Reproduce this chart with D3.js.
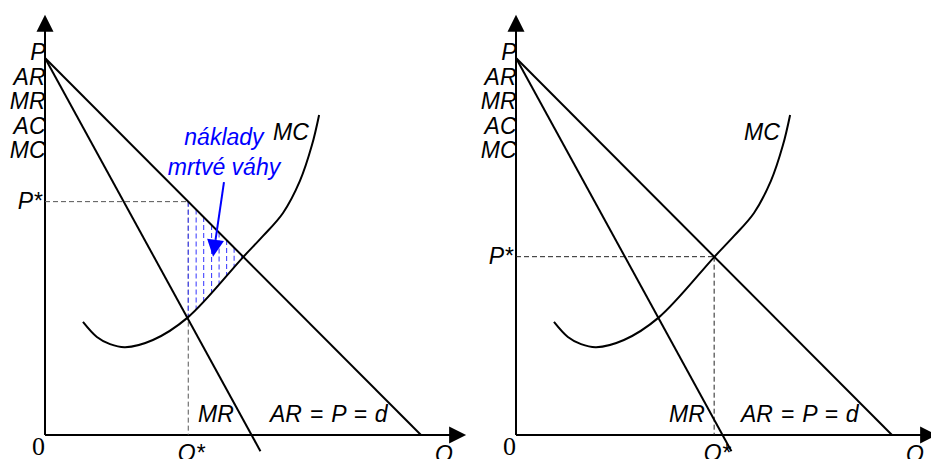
<!DOCTYPE html>
<html>
<head>
<meta charset="utf-8">
<script src="https://cdn.jsdelivr.net/npm/d3@7"></script>
<style>
  body { margin: 0; background: #fff; }
  text { font-family: "Liberation Sans", Arial, sans-serif; font-style: italic; font-size: 23px; }
</style>
</head>
<body>
<svg id="chart" width="931" height="459"></svg>
<script>
/* curve data (Q, P in model units) */
const arQ = [0, 10];
const arP = [10, 0];
const mrQ = [0, 5.73];
const mrP = [10, -0.43];
const mcQ = [1.01, 1.38, 1.73, 2.13, 2.87, 3.80, 5.27, 5.80, 6.33, 6.78, 7.10, 7.29];
const mcP = [3.00, 2.60, 2.41, 2.33, 2.52, 3.12, 4.72, 5.28, 5.89, 6.74, 7.69, 8.49];

/* deadweight loss hatch + annotation */
const hatchQ = [3.81, 4.02, 4.22, 4.43, 4.63, 4.83, 5.03, 5.23];
const arrowQ = [4.76, 4.47];
const arrowP = [6.71, 4.73];
const noteLines = ["náklady", "mrtvé váhy"];

/* labels */
const yAxisLabels = ["P", "AR", "MR", "AC", "MC"];
const panels = [
    { name: "monopol", ox: 45, qStar: 3.81, pStar: 6.19, hatch: true, dash: "#555" },
    { name: "regulace", ox: 516, qStar: 5.27, pStar: 4.73, hatch: false, dash: "#222" }
];

const svg = d3.select("#chart");
const unit = 37.6;
const yBase = 435;

function zip(qs, ps) {
    return qs.map((q, i) => ({ q: q, p: ps[i] }));
}

function drawPanel(panel, idx) {
    const ox = panel.ox;
    const g = svg.append("g").attr("class", "panel-" + panel.name);

    const x = d3.scaleLinear().domain([0, 10]).range([ox, ox + 10 * unit]);
    const y = d3.scaleLinear().domain([0, 10]).range([yBase, 58]);

    const line = d3.line().x(d => x(d.q)).y(d => y(d.p));
    const mcLine = d3.line().x(d => x(d.q)).y(d => y(d.p)).curve(d3.curveCatmullRom.alpha(0.5));
    const mcData = zip(mcQ, mcP);

    /* axes with arrows */
    const yTop = y(11.15);
    const xEnd = x(11.2);
    g.append("line")
        .attr("x1", x(0)).attr("y1", y(0))
        .attr("x2", x(0)).attr("y2", yTop + 14)
        .attr("stroke", "#000").attr("stroke-width", 2);
    g.append("path")
        .attr("d", "M" + x(0) + "," + yTop + " L" + (x(0) - 8.5) + "," + (yTop + 17) + " L" + (x(0) + 8.5) + "," + (yTop + 17) + "Z")
        .attr("fill", "#000");
    g.append("line")
        .attr("x1", x(0)).attr("y1", y(0))
        .attr("x2", xEnd - 14).attr("y2", y(0))
        .attr("stroke", "#000").attr("stroke-width", 2);
    g.append("path")
        .attr("d", "M" + xEnd + "," + y(0) + " L" + (xEnd - 17) + "," + (y(0) - 8.5) + " L" + (xEnd - 17) + "," + (y(0) + 8.5) + "Z")
        .attr("fill", "#000");

    /* dashed guides to P* and Q* */
    g.append("line")
        .attr("x1", x(0)).attr("y1", y(panel.pStar))
        .attr("x2", x(panel.qStar)).attr("y2", y(panel.pStar))
        .attr("stroke", panel.dash).attr("stroke-width", 1)
        .attr("stroke-dasharray", "5,3");
    g.append("line")
        .attr("x1", x(panel.qStar)).attr("y1", y(panel.pStar))
        .attr("x2", x(panel.qStar)).attr("y2", y(0))
        .attr("stroke", panel.dash).attr("stroke-width", 1)
        .attr("stroke-dasharray", "5,3");

    /* hatch between AR and MC */
    if (panel.hatch) {
        const clipId = "aboveMC" + idx;
        const above = d3.area()
            .x(d => x(d.q))
            .y0(0)
            .y1(d => y(d.p))
            .curve(d3.curveCatmullRom.alpha(0.5));
        g.append("clipPath").attr("id", clipId)
            .append("path").attr("d", above(mcData));
        g.append("g")
            .attr("clip-path", "url(#" + clipId + ")")
            .selectAll(".hatch")
            .data(hatchQ)
            .enter()
            .append("line")
            .attr("class", "hatch")
            .attr("x1", d => x(d)).attr("x2", d => x(d))
            .attr("y1", d => y(10 - d))
            .attr("y2", y(0))
            .attr("stroke", "#4444ff")
            .attr("stroke-width", 1.1)
            .attr("stroke-dasharray", "5,3");
    }

    /* curves */
    g.append("path").attr("d", line(zip(arQ, arP)))
        .attr("fill", "none").attr("stroke", "#000").attr("stroke-width", 2);
    g.append("path").attr("d", line(zip(mrQ, mrP)))
        .attr("fill", "none").attr("stroke", "#000").attr("stroke-width", 2);
    g.append("path").attr("d", mcLine(mcData))
        .attr("fill", "none").attr("stroke", "#000").attr("stroke-width", 2);

    /* y axis labels */
    g.selectAll(".ylab")
        .data(yAxisLabels)
        .enter()
        .append("text")
        .attr("class", "ylab")
        .attr("x", x(0) + 0.5)
        .attr("y", (d, i) => 60 + i * 24.5)
        .attr("text-anchor", "end")
        .text(d => d);

    g.append("text")
        .attr("x", x(0) - 3).attr("y", y(panel.pStar) + 7)
        .attr("text-anchor", "end")
        .text("P*");

    g.append("text")
        .attr("x", x(0)).attr("y", 455)
        .attr("text-anchor", "end")
        .style("font-family", "'Liberation Serif', 'Times New Roman', serif")
        .style("font-style", "normal")
        .style("font-size", "26px")
        .text("0");

    g.append("text")
        .attr("x", x(panel.qStar) + 3).attr("y", 461)
        .attr("text-anchor", "middle")
        .text("Q*");

    g.append("text")
        .attr("x", ox + 390).attr("y", 462)
        .text("Q");

    g.append("text")
        .attr("x", ox + 153).attr("y", 422)
        .text("MR");

    g.append("text")
        .attr("x", ox + 225).attr("y", 422)
        .style("word-spacing", "1.5px")
        .text("AR = P = d");

    g.append("text")
        .attr("x", ox + 228).attr("y", 140)
        .text("MC");

    /* deadweight loss note */
    if (panel.hatch) {
        g.selectAll(".note")
            .data(noteLines)
            .enter()
            .append("text")
            .attr("class", "note")
            .attr("x", x(4.76))
            .attr("y", (d, i) => 145 + i * 30)
            .attr("text-anchor", "middle")
            .style("fill", "#0000ff")
            .text(d => d);

        const x0 = x(arrowQ[0]), y0 = y(arrowP[0]);
        const x1 = x(arrowQ[1]), y1 = y(arrowP[1]);
        const len = Math.hypot(x1 - x0, y1 - y0);
        const ux = (x1 - x0) / len, uy = (y1 - y0) / len;
        const headLen = 17, headHalf = 8.5;
        const bx = x1 - ux * headLen, by = y1 - uy * headLen;
        g.append("line")
            .attr("x1", x0).attr("y1", y0)
            .attr("x2", bx).attr("y2", by)
            .attr("stroke", "#0000ff").attr("stroke-width", 2);
        g.append("path")
            .attr("d", "M" + x1 + "," + y1 +
                " L" + (bx - uy * headHalf) + "," + (by + ux * headHalf) +
                " L" + (bx + uy * headHalf) + "," + (by - ux * headHalf) + "Z")
            .attr("fill", "#0000ff");
    }
}

panels.forEach(drawPanel);
</script>
</body>
</html>
